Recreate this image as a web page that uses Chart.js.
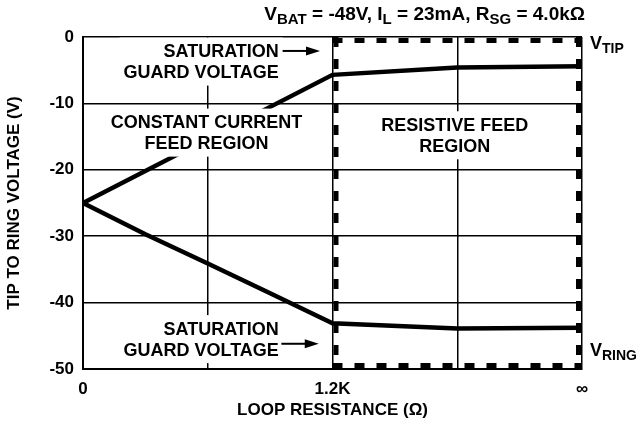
<!DOCTYPE html>
<html lang="en">
<head>
    <meta charset="UTF-8">
    <title>Tip to ring voltage vs loop resistance</title>
    <style>
        body { margin: 0; background: #fff; }
    </style>
</head>
<body>
    <canvas id="myChart" width="644" height="423"></canvas>

    <script src="https://cdn.jsdelivr.net/npm/chart.js@4.4.1/dist/chart.umd.min.js"></script>
    <script>
        // x positions 0..4, labelled only at 0, 1.2K and infinity
        const xTickLabels = ['0', '', '1.2K', '', '\u221E'];
        const yTicks = [0, -10, -20, -30, -40, -50];

        const tipX = [0, 2, 3, 4];
        const tipV = [-25, -5.7, -4.6, -4.4];

        const ringX = [0, 0.5, 1, 1.5, 2, 3, 4];
        const ringV = [-25, -29.7, -34.1, -38.6, -43.1, -43.9, -43.8];

        // resistive feed region spans 1.2K .. infinity
        const regionFrom = 2;
        const regionTo = 4;

        const FONT = "'Liberation Sans', Arial, sans-serif";

        const notes = [
            { lines: ['SATURATION', 'GUARD VOLTAGE'], x: 1.57, y: -3.7, align: 'right', arrow: { from: 1.6, to: 1.9, y: -2.1 } },
            { lines: ['CONSTANT CURRENT', 'FEED REGION'], x: 0.99, y: -14.4, align: 'center' },
            { lines: ['RESISTIVE FEED', 'REGION'], x: 2.98, y: -14.8, align: 'center' },
            { lines: ['SATURATION', 'GUARD VOLTAGE'], x: 1.57, y: -45.5, align: 'right', arrow: { from: 1.59, to: 1.89, y: -46.2 } }
        ];

        function toPoints(xs, ys) {
            return xs.map((x, i) => ({ x: x, y: ys[i] }));
        }

        // text with subscripts, parts like [['V'], ['BAT', true]]
        function richText(ctx, parts, x, y, align, size) {
            const subSize = Math.round(size * 0.8);
            let total = 0;
            parts.forEach(p => {
                ctx.font = 'bold ' + (p[1] ? subSize : size) + 'px ' + FONT;
                total += ctx.measureText(p[0]).width;
            });
            let cx = align === 'right' ? x - total : x;
            ctx.textAlign = 'left';
            ctx.textBaseline = 'middle';
            parts.forEach(p => {
                ctx.font = 'bold ' + (p[1] ? subSize : size) + 'px ' + FONT;
                ctx.fillText(p[0], cx, p[1] ? y + 5 : y);
                cx += ctx.measureText(p[0]).width;
            });
        }

        const annotations = {
            id: 'annotations',
            afterDatasetsDraw(chart) {
                const ctx = chart.ctx;
                const xs = chart.scales.x, ys = chart.scales.y;
                const a = chart.chartArea;
                ctx.save();

                // dashed border of the resistive feed region
                const L = xs.getPixelForValue(regionFrom), R = xs.getPixelForValue(regionTo);
                const T = ys.getPixelForValue(0), B = ys.getPixelForValue(-50);
                const ins = 3.5;
                ctx.strokeStyle = '#000';
                ctx.lineWidth = 5;
                ctx.setLineDash([10, 12]);
                ctx.beginPath(); ctx.moveTo(L, T + ins); ctx.lineTo(R, T + ins); ctx.stroke();
                ctx.beginPath(); ctx.moveTo(L, B - ins); ctx.lineTo(R, B - ins); ctx.stroke();
                ctx.beginPath(); ctx.moveTo(L + ins, T); ctx.lineTo(L + ins, B); ctx.stroke();
                ctx.beginPath(); ctx.moveTo(R - ins, T); ctx.lineTo(R - ins, B); ctx.stroke();
                ctx.setLineDash([]);

                // labels with white boxes behind them
                const size = 18, lh = 21;
                ctx.font = 'bold ' + size + 'px ' + FONT;
                notes.forEach(n => {
                    const px = xs.getPixelForValue(n.x);
                    const py = ys.getPixelForValue(n.y);
                    const w = Math.max(...n.lines.map(t => ctx.measureText(t).width));
                    const h = n.lines.length * lh;
                    const left = n.align === 'right' ? px - w : px - w / 2;
                    ctx.fillStyle = '#fff';
                    ctx.fillRect(left - 4, py - h / 2 - 3, w + 8, h + 6);
                    ctx.fillStyle = '#000';
                    ctx.textAlign = n.align;
                    ctx.textBaseline = 'middle';
                    n.lines.forEach((t, i) => {
                        ctx.fillText(t, px, py - h / 2 + lh * (i + 0.5) + 1);
                    });
                    if (n.arrow) {
                        const x1 = xs.getPixelForValue(n.arrow.from);
                        const x2 = xs.getPixelForValue(n.arrow.to);
                        const ay = ys.getPixelForValue(n.arrow.y);
                        ctx.strokeStyle = '#000';
                        ctx.lineWidth = 2;
                        ctx.beginPath(); ctx.moveTo(x1, ay); ctx.lineTo(x2 - 10, ay); ctx.stroke();
                        ctx.beginPath();
                        ctx.moveTo(x2, ay); ctx.lineTo(x2 - 14, ay - 4.5); ctx.lineTo(x2 - 14, ay + 4.5);
                        ctx.closePath(); ctx.fill();
                    }
                });

                // heading and line names
                ctx.fillStyle = '#000';
                richText(ctx, [['V'], ['BAT', true], [' = -48V, I'], ['L', true], [' = 23mA, R'], ['SG', true], [' = 4.0k\u03A9']],
                    a.right + 3, 15, 'right', 19);
                richText(ctx, [['V'], ['TIP', true]], a.right + 8, 44, 'left', 18);
                richText(ctx, [['V'], ['RING', true]], a.right + 8, 351, 'left', 18);
                ctx.restore();
            }
        };

        const ctx = document.getElementById('myChart').getContext('2d');
        const myChart = new Chart(ctx, {
            type: 'line',
            data: {
                datasets: [
                    { label: 'V TIP', data: toPoints(tipX, tipV), borderColor: '#000', borderWidth: 4.5, pointRadius: 0, tension: 0 },
                    { label: 'V RING', data: toPoints(ringX, ringV), borderColor: '#000', borderWidth: 4.5, pointRadius: 0, tension: 0 }
                ]
            },
            options: {
                responsive: false,
                animation: false,
                layout: { padding: { top: 37, right: 62, left: 0, bottom: 0 } },
                plugins: { legend: { display: false }, tooltip: { enabled: false } },
                scales: {
                    x: {
                        type: 'linear',
                        min: 0,
                        max: 4,
                        afterFit: s => { s.height = 54; },
                        ticks: {
                            stepSize: 1,
                            autoSkip: false,
                            padding: 10,
                            color: '#000',
                            font: { family: FONT, size: 17, weight: 'bold' },
                            callback: v => xTickLabels[v]
                        },
                        grid: { color: '#000', lineWidth: 1.5, drawTicks: false },
                        border: { color: '#000', width: 2 },
                        title: {
                            display: true,
                            text: 'LOOP RESISTANCE (\u03A9)',
                            color: '#000',
                            font: { family: FONT, size: 17, weight: 'bold' },
                            padding: { top: 0, bottom: 2 }
                        }
                    },
                    y: {
                        min: -50,
                        max: 0,
                        afterFit: s => { s.width = 83; },
                        afterBuildTicks: s => { s.ticks = yTicks.map(v => ({ value: v })); },
                        ticks: {
                            padding: 9,
                            color: '#000',
                            font: { family: FONT, size: 17, weight: 'bold' }
                        },
                        grid: { color: '#000', lineWidth: 1.5, drawTicks: false },
                        border: { color: '#000', width: 2 },
                        title: {
                            display: true,
                            text: 'TIP TO RING VOLTAGE (V)',
                            color: '#000',
                            font: { family: FONT, size: 17, weight: 'bold' },
                            padding: { top: 4, bottom: 0 }
                        }
                    }
                }
            },
            plugins: [annotations]
        });
    </script>
</body>
</html>
